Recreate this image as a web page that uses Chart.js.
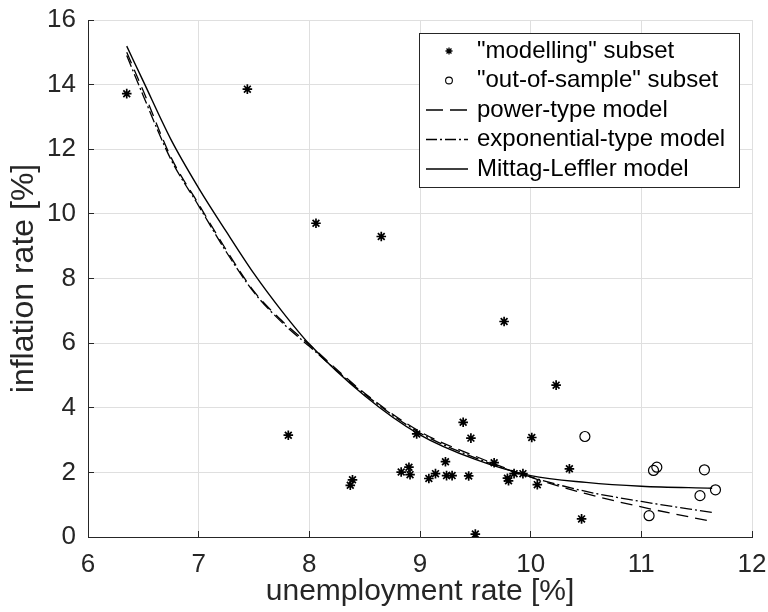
<!DOCTYPE html>
<html>
<head>
<meta charset="utf-8">
<script src="https://cdn.jsdelivr.net/npm/chart.js@4.4.0/dist/chart.umd.min.js"></script>
<style>
  html, body { margin: 0; padding: 0; background: #fff; }
  canvas { display: block; }
</style>
</head>
<body>
<canvas id="chart" width="768" height="612"></canvas>
<script>
// "modelling" subset (unemployment %, inflation %)
const modelX = [6.35, 7.44, 8.06, 8.65, 7.81, 9.76, 10.23, 8.37, 8.39, 8.83, 8.90, 8.91, 8.97, 9.08, 9.14, 9.23,
                9.24, 9.29, 9.39, 9.46, 9.44, 9.50, 9.67, 9.79, 9.80, 9.85, 9.93, 10.01, 10.06, 10.35, 10.46]
const modelY = [13.72, 13.86, 9.71, 9.30, 3.15, 6.67, 4.70, 1.60, 1.77, 2.01, 2.16, 1.93, 3.19, 1.81, 1.96, 2.33,
                1.90, 1.90, 3.55, 3.06, 1.89, 0.09, 2.30, 1.82, 1.74, 1.96, 1.96, 3.08, 1.62, 2.11, 0.56]

// "out-of-sample" subset
const oosX = [10.49, 11.11, 11.14, 11.57, 11.53, 11.67, 11.07]
const oosY = [3.11, 2.06, 2.16, 2.08, 1.28, 1.46, 0.66]

// fitted model curves
const curveX = [6.35, 6.5, 6.75, 7, 7.25, 7.5, 7.75, 8, 8.5, 9, 9.5, 10, 10.5, 11, 11.64]
const powerY = [15.0, 13.8, 11.75, 10.3, 8.88, 7.6, 6.7, 5.95, 4.45, 3.26, 2.5, 1.85, 1.34, 0.93, 0.48]
const expY   = [14.9, 13.65, 11.68, 10.25, 8.82, 7.57, 6.65, 5.9, 4.42, 3.22, 2.45, 1.86, 1.41, 1.10, 0.76]
const mlY    = [15.19, 14.1, 12.3, 10.8, 9.45, 8.15, 7.0, 5.97, 4.37, 3.16, 2.40, 1.90, 1.69, 1.57, 1.51]

const xTicks = [6, 7, 8, 9, 10, 11, 12]
const yTicks = [0, 2, 4, 6, 8, 10, 12, 14, 16]

const FONT = '"Liberation Sans", Arial, Helvetica, sans-serif'
const AXIS = '#262626'
const GRID = '#dfdfdf'

const toPoints = (xs, ys) => xs.map((x, i) => ({x: x, y: ys[i]}))

// MATLAB style legend box in the top right corner
const legendBox = {
    id: 'legendBox',
    afterDraw(chart) {
        const {ctx, chartArea} = chart
        const w = 320, h = 154
        const x0 = Math.round(chartArea.right - 13 - w)
        const y0 = Math.round(chartArea.top + 13)
        ctx.save()
        ctx.fillStyle = '#fff'
        ctx.fillRect(x0, y0, w, h)
        ctx.strokeStyle = AXIS
        ctx.lineWidth = 1
        ctx.strokeRect(x0 + 0.5, y0 + 0.5, w, h)
        ctx.font = '24px ' + FONT
        ctx.textBaseline = 'middle'
        ctx.textAlign = 'left'
        chart.data.datasets.forEach((ds, i) => {
            const y = y0 + 18 + i * 29.5
            const cx = x0 + 30
            ctx.strokeStyle = '#000'
            if (ds.showLine) {
                ctx.lineWidth = ds.borderWidth
                ctx.setLineDash(ds.legendDash || [])
                ctx.beginPath()
                ctx.moveTo(x0 + 7, y)
                ctx.lineTo(x0 + 49, y)
                ctx.stroke()
                ctx.setLineDash([])
            } else if (ds.pointStyle === 'star') {
                const r = 3.5
                ctx.lineWidth = 1.3
                ctx.beginPath()
                for (let k = 0; k < 4; k++) {
                    const a = k * Math.PI / 4
                    ctx.moveTo(cx - r * Math.cos(a), y - r * Math.sin(a))
                    ctx.lineTo(cx + r * Math.cos(a), y + r * Math.sin(a))
                }
                ctx.stroke()
            } else {
                ctx.lineWidth = 1.1
                ctx.beginPath()
                ctx.arc(cx, y, 3.4, 0, Math.PI * 2)
                ctx.stroke()
            }
            ctx.fillStyle = '#000'
            ctx.fillText(ds.label, x0 + 58, y)
        })
        ctx.restore()
    }
}

const config = {
    type: 'scatter',
    data: {
        datasets: [
            {
                label: '"modelling" subset',
                data: toPoints(modelX, modelY),
                pointStyle: 'star',
                pointRadius: 4.8,
                pointBorderWidth: 1.7,
                borderColor: '#000',
                backgroundColor: '#000'
            },
            {
                label: '"out-of-sample" subset',
                data: toPoints(oosX, oosY),
                pointStyle: 'circle',
                pointRadius: 5,
                pointBorderWidth: 1.2,
                borderColor: '#000',
                backgroundColor: 'rgba(0,0,0,0)'
            },
            {
                label: 'power-type model',
                data: toPoints(curveX, powerY),
                showLine: true,
                pointRadius: 0,
                borderColor: '#000',
                borderWidth: 1.3,
                borderDash: [12, 7],
                legendDash: [17, 7],
                cubicInterpolationMode: 'monotone'
            },
            {
                label: 'exponential-type model',
                data: toPoints(curveX, expY),
                showLine: true,
                pointRadius: 0,
                borderColor: '#000',
                borderWidth: 1.3,
                borderDash: [12, 3, 2, 3],
                legendDash: [11, 3, 2, 3],
                cubicInterpolationMode: 'monotone'
            },
            {
                label: 'Mittag-Leffler model',
                data: toPoints(curveX, mlY),
                showLine: true,
                pointRadius: 0,
                borderColor: '#000',
                borderWidth: 1.4,
                cubicInterpolationMode: 'monotone'
            }
        ]
    },
    options: {
        responsive: false,
        animation: false,
        devicePixelRatio: 1,
        layout: {padding: {top: 20, right: 16, left: 0, bottom: 0}},
        plugins: {
            legend: {display: false},
            tooltip: {enabled: false}
        },
        scales: {
            x: {
                type: 'linear',
                min: 6,
                max: 12,
                afterBuildTicks: s => { s.ticks = xTicks.map(v => ({value: v})) },
                afterFit: s => {
                    s.height = 75
                    s.paddingLeft = 0
                    s.paddingRight = 0
                },
                grid: {color: GRID, lineWidth: 1, drawTicks: true, tickLength: -6, tickColor: AXIS, tickWidth: 1},
                border: {color: AXIS, width: 1},
                ticks: {color: AXIS, font: {family: FONT, size: 26}, padding: 18, maxRotation: 0},
                title: {
                    display: true,
                    text: 'unemployment rate [%]',
                    color: AXIS,
                    font: {family: FONT, size: 30},
                    padding: {top: 0, bottom: 2}
                }
            },
            y: {
                type: 'linear',
                min: 0,
                max: 16,
                afterBuildTicks: s => { s.ticks = yTicks.map(v => ({value: v})) },
                afterFit: s => {
                    s.width = 88
                    s.paddingTop = 0
                    s.paddingBottom = 0
                },
                grid: {color: GRID, lineWidth: 1, drawTicks: true, tickLength: -6, tickColor: AXIS, tickWidth: 1},
                border: {color: AXIS, width: 1},
                ticks: {color: AXIS, font: {family: FONT, size: 26}, padding: 18},
                title: {
                    display: true,
                    text: 'inflation rate [%]',
                    color: AXIS,
                    font: {family: FONT, size: 32},
                    padding: {top: 5, bottom: 0}
                }
            }
        }
    },
    plugins: [legendBox]
}

Chart.defaults.font.family = FONT
const mychart = new Chart(document.getElementById('chart'), config)
</script>
</body>
</html>
